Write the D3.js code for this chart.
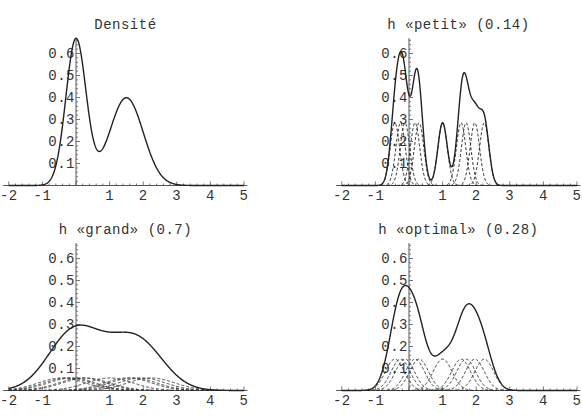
<!DOCTYPE html>
<html>
<head>
<meta charset="utf-8">
<script src="https://d3js.org/d3.v7.min.js"></script>
<style>
body { margin: 0; background: #fff; }
text { font-family: "Liberation Mono", "DejaVu Sans Mono", monospace; font-size: 14px; fill: #333; letter-spacing: 0.5px; }
</style>
</head>
<body>
<div id="chart"></div>
<script>
// true density: mixture of two normals
var mixWeights = [0.5, 0.5];
var mixMeans = [0, 1.5];
var mixSds = [0.3, 0.5];

// the 10 observations used by the kernel estimates
var sample = [-0.42, -0.25, -0.12, 0.18, 0.3, 1.0, 1.55, 1.7, 1.96, 2.24];

var titles = ["Densité", "h «petit» (0.14)", "h «grand» (0.7)", "h «optimal» (0.28)"];
var bandwidths = [null, 0.14, 0.7, 0.28];

var xTicks = [-2, -1, 1, 2, 3, 4, 5];
var yTicks = [0.1, 0.2, 0.3, 0.4, 0.5, 0.6];

var W = 582, H = 418;
var svg = d3.select("#chart").append("svg")
    .attr("width", W)
    .attr("height", H);

function gauss(x, m, s) {
  return Math.exp(-0.5 * ((x - m) / s) * ((x - m) / s)) / (s * Math.sqrt(2 * Math.PI));
}

var grid = d3.range(-2, 5.0001, 0.01);

titles.forEach(function(title, i) {
  var col = i % 2, row = Math.floor(i / 2);
  var ox = 76 + col * 333, oy = 185.5 + row * 205;
  var u = 33.6;

  var x = d3.scaleLinear().domain([-2, 5]).range([ox - 2 * u, ox + 5 * u]);
  var y = d3.scaleLinear().domain([0, 0.67]).range([oy, oy - 0.67 * 220]);

  var g = svg.append("g");

  // axes
  g.append("line")
    .attr("x1", x(-2.17)).attr("x2", x(5.1))
    .attr("y1", y(0)).attr("y2", y(0))
    .attr("stroke", "#555").attr("stroke-width", 1);
  g.append("line")
    .attr("x1", x(0)).attr("x2", x(0))
    .attr("y1", y(0)).attr("y2", y(0.67))
    .attr("stroke", "#555").attr("stroke-width", 1);

  // minor + major ticks
  x.ticks(35).forEach(function(t) {
    var major = Math.abs(t - Math.round(t)) < 1e-9;
    g.append("line")
      .attr("x1", x(t)).attr("x2", x(t))
      .attr("y1", y(0)).attr("y2", y(0) - (major ? 4 : 2))
      .attr("stroke", "#555").attr("stroke-width", 0.8);
  });
  d3.range(0.02, 0.661, 0.02).forEach(function(t) {
    var major = Math.abs(t * 10 - Math.round(t * 10)) < 1e-6;
    g.append("line")
      .attr("x1", x(0)).attr("x2", x(0) + (major ? 4 : 2))
      .attr("y1", y(t)).attr("y2", y(t))
      .attr("stroke", "#555").attr("stroke-width", 0.8);
  });

  g.selectAll(".xl").data(xTicks).enter().append("text")
    .attr("x", function(d) { return x(d); })
    .attr("y", y(0) + 14)
    .attr("text-anchor", "middle")
    .text(function(d) { return d; });

  g.selectAll(".yl").data(yTicks).enter().append("text")
    .attr("x", x(0) - 1)
    .attr("y", function(d) { return y(d); })
    .attr("dy", "0.35em")
    .attr("text-anchor", "end")
    .text(function(d) { return d3.format(".1f")(d); });

  g.append("text")
    .attr("x", x(1.47))
    .attr("y", oy - 157)
    .attr("text-anchor", "middle")
    .text(title);

  var line = d3.line()
    .x(function(d) { return x(d[0]); })
    .y(function(d) { return y(d[1]); });

  var h = bandwidths[i];
  if (h === null) {
    var dens = grid.map(function(v) {
      var s = 0;
      mixWeights.forEach(function(w, k) { s += w * gauss(v, mixMeans[k], mixSds[k]); });
      return [v, s];
    });
    g.append("path").datum(dens).attr("d", line)
      .attr("fill", "none").attr("stroke", "#222").attr("stroke-width", 1.4);
  } else {
    var n = sample.length;
    sample.forEach(function(p) {
      var k = grid.map(function(v) { return [v, gauss(v, p, h) / n]; });
      g.append("path").datum(k).attr("d", line)
        .attr("fill", "none").attr("stroke", "#333").attr("stroke-width", 1)
        .attr("stroke-dasharray", "3,2");
    });
    var kde = grid.map(function(v) {
      var s = 0;
      sample.forEach(function(p) { s += gauss(v, p, h); });
      return [v, s / n];
    });
    g.append("path").datum(kde).attr("d", line)
      .attr("fill", "none").attr("stroke", "#222").attr("stroke-width", 1.4);
  }
});
</script>
</body>
</html>
